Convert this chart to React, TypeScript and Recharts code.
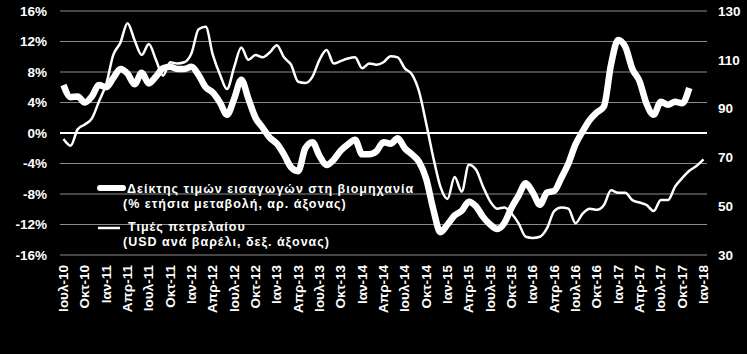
import React from 'react';
import { LineChart, Line, XAxis, YAxis, CartesianGrid, ReferenceLine } from 'recharts';

const monthNames = ['Ιαν', 'Φεβ', 'Μαρ', 'Απρ', 'Μαϊ', 'Ιουν', 'Ιουλ', 'Αυγ', 'Σεπ', 'Οκτ', 'Νοε', 'Δεκ'];
const years = ['10', '11', '12', '13', '14', '15', '16', '17', '18'];

// Import price index in industry (% y/y), Jul-10 .. Nov-17
const importIdx = [
  6.3, 4.7, 4.8, 4.0, 4.8, 6.3, 6.0, 7.2, 8.4, 7.8, 6.4, 7.9,
  6.5, 7.4, 8.5, 8.7, 8.4, 8.4, 8.7, 7.6, 6.0, 5.3, 4.0, 2.4,
  4.5, 7.0, 4.5, 2.0, 0.7, -0.6, -1.4, -2.8, -4.5, -5.0, -2.0, -1.2,
  -3.0, -4.2, -3.5, -2.3, -1.5, -0.9, -2.8, -2.8, -2.4, -1.2, -1.4, -0.7,
  -2.0, -2.8, -3.8, -6.0, -10.0, -13.0, -12.0, -10.8, -10.2, -9.0, -9.6, -11.0,
  -12.0, -12.6, -11.8, -9.8, -8.2, -6.6, -7.8, -9.4, -7.8, -7.6, -5.9, -4.0,
  -1.5, 0.2, 1.7, 2.7, 3.5, 9.0, 12.2, 11.3, 8.4, 6.8, 3.8, 2.4,
  4.1, 3.7, 4.1, 3.9, 5.9,
];

// Oil price (USD per barrel), Jul-10 .. Jan-18
const oil = [
  77.5, 74.8, 81.5, 83.5, 86, 93, 100, 112, 117, 125, 118, 112,
  116.5, 110, 103.5, 109, 108.5, 109, 112.7, 122.5, 123.5, 112, 104, 98,
  107, 115, 110, 112, 111, 113, 116, 111, 108, 101, 100.5, 103,
  110, 114, 108.5, 109.5, 110.5, 111, 106.5, 108.5, 108, 109, 111.5, 111,
  106.5, 104, 97, 84, 70, 58, 53, 62, 56, 67, 65, 58,
  52, 49, 49.5, 47, 43, 37.5, 37, 37.5, 41, 48, 49.5, 49,
  43, 47, 49, 48.5, 50.5, 56.5, 55.5, 55.5, 52.5, 51.5, 50.5, 48,
  52.5, 52.5, 58, 61.5, 64.5, 66.5, 69.2,
];

const leftTicks = [-16, -12, -8, -4, 0, 4, 8, 12, 16];
const rightTicks = [30, 50, 70, 90, 110, 130];

const seriesNames = [
  ['Δείκτης τιμών εισαγωγών στη βιομηχανία', '(% ετήσια μεταβολή, αρ. άξονας)'],
  ['Τιμές πετρελαίου', '(USD ανά βαρέλι, δεξ. άξονας)'],
];

const labels: string[] = [];
for (let i = 0; i < oil.length; i++) {
  const mi = (6 + i) % 12;
  const yi = Math.floor((6 + i) / 12);
  labels.push(`${monthNames[mi]}-${years[yi]}`);
}

const data = labels.map((m, i) => ({
  m,
  imp: i < importIdx.length ? importIdx[i] : null,
  oil: oil[i],
}));

const FONT = 'Arial, "Liberation Sans", sans-serif';

const XTick = (props: any) => {
  const { x, y, payload } = props;
  return (
    <text
      x={x}
      y={y}
      transform={`rotate(-90, ${x}, ${y})`}
      textAnchor="end"
      dominantBaseline="central"
      fill="#fff"
      fontFamily={FONT}
      fontWeight="bold"
      fontSize={13.5}
    >
      {payload.value}
    </text>
  );
};

const legendText = { fill: '#fff', fontFamily: FONT, fontWeight: 'bold' as const, fontSize: 12.5, letterSpacing: 1 };

const LegendOverlay = () => (
  <svg width={340} height={80} style={{ position: 'absolute', left: 94, top: 178, overflow: 'visible' }}>
    <line x1={6} y1={10} x2={29} y2={10} stroke="#fff" strokeWidth={6} strokeLinecap="round" />
    <text x={33} y={15} {...legendText}>{seriesNames[0][0]}</text>
    <text x={29} y={30} {...legendText}>{seriesNames[0][1]}</text>
    <line x1={4} y1={50} x2={26} y2={50} stroke="#fff" strokeWidth={2.5} />
    <text x={34} y={53} {...legendText}>{seriesNames[1][0]}</text>
    <text x={29} y={68} {...legendText}>{seriesNames[1][1]}</text>
  </svg>
);

export default function App() {
  return (
    <div style={{ position: 'absolute', left: 0, top: 0, width: 747, height: 354, background: '#000', overflow: 'hidden' }}>
      <LineChart width={747} height={354} data={data} margin={{ top: 11, right: 0, bottom: 0, left: 0 }}>
        <CartesianGrid yAxisId="left" vertical={false} stroke="#8c8c8c" strokeWidth={1} />
        <XAxis
          dataKey="m"
          interval={2}
          height={99}
          tick={<XTick />}
          tickLine={false}
          axisLine={false}
          tickMargin={4}
          padding={{ left: 3.5, right: 3.5 }}
        />
        <YAxis
          yAxisId="left"
          domain={[-16, 16]}
          ticks={leftTicks}
          interval={0}
          width={60}
          tickFormatter={(v: number) => `${v}%`}
          tick={{ fill: '#fff', fontFamily: FONT, fontWeight: 'bold', fontSize: 13.5 }}
          tickLine={false}
          axisLine={false}
          tickMargin={7}
        />
        <YAxis
          yAxisId="right"
          orientation="right"
          domain={[30, 130]}
          ticks={rightTicks}
          interval={0}
          width={40}
          tick={{ fill: '#fff', fontFamily: FONT, fontWeight: 'bold', fontSize: 13.5, textAnchor: 'start' }}
          tickLine={false}
          axisLine={false}
          tickMargin={5}
        />
        <ReferenceLine yAxisId="left" y={0} stroke="#fff" strokeWidth={2} />
        <Line
          yAxisId="right"
          type="monotone"
          dataKey="oil"
          stroke="#fff"
          strokeWidth={2.5}
          dot={false}
          isAnimationActive={false}
        />
        <Line
          yAxisId="left"
          type="monotone"
          dataKey="imp"
          stroke="#fff"
          strokeWidth={6.5}
          dot={false}
          connectNulls={false}
          isAnimationActive={false}
        />
      </LineChart>
      <LegendOverlay />
    </div>
  );
}
